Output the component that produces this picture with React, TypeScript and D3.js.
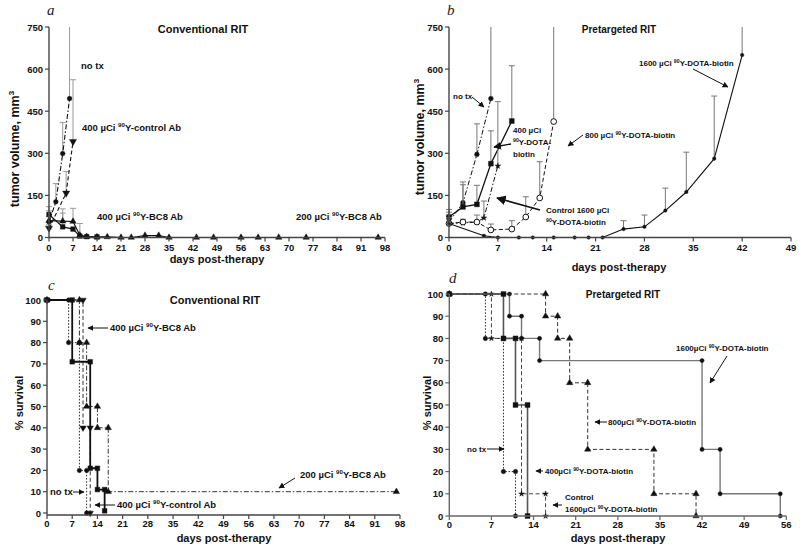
import React from 'react';
import * as d3 from 'd3';

const FONT = "'Liberation Sans', Arial, sans-serif";

// ---------- Panel a (conventional RIT, tumor volume) ----------
const aTicksX = [0, 7, 14, 21, 28, 35, 42, 49, 56, 63, 70, 77, 84, 91, 98];
const aTicksY = [0, 150, 300, 450, 600, 750];
const aNoTxDay = [0, 2, 4, 6];
const aNoTxVol = [55, 127, 299, 495];
const aNoTxUp = [75, 192, 410, 900];
const aCtrlDay = [0, 5, 7];
const aCtrlVol = [33, 158, 342];
const aCtrlUp = [45, 235, 562];
const aBc400Day = [0, 4, 7, 9, 11, 14];
const aBc400Vol = [82, 38, 30, 5, 3, 2];
const aBc400Up = [110, 87, null, null, null, null];
const aBc200Day = [0, 4, 7, 9, 11, 14, 17, 21, 24, 28, 32, 35, 43, 48, 56, 61, 67, 75, 96];
const aBc200Vol = [60, 58, 57, 8, 3, 2, 2, 0, 0, 7, 7, 0, 0, 0, 0, 0, 0, 0, 0];
const aBc200Up = [95, 102, 104, 50, null, null, null, null, null, null, null, null, null, null, null, null, null, null, null];

// ---------- Panel b (pretargeted RIT, tumor volume) ----------
const bTicksX = [0, 7, 14, 21, 28, 35, 42, 49];
const bTicksY = [0, 150, 300, 450, 600, 750];
const bNoTxDay = [0, 2, 4, 6];
const bNoTxVol = [55, 124, 296, 495];
const bNoTxUp = [75, 198, 405, 900];
const b400Day = [0, 2, 4, 6, 9];
const b400Vol = [73, 109, 118, 263, 415];
const b400Up = [100, 188, 186, 380, 612];
const bCtrlDay = [0, 2, 4, 5, 7];
const bCtrlVol = [50, 52, 55, 70, 255];
const bCtrlUp = [null, null, null, 130, 484];
const b800Day = [0, 2, 4, 6, 9, 11, 13, 15];
const b800Vol = [50, 55, 55, 27, 30, 73, 141, 413];
const b800Up = [70, 65, 80, 48, 60, 145, 270, 900];
const b1600Day = [0, 5, 7, 10, 12, 15, 18, 20, 22, 25, 28, 31, 34, 38, 42];
const b1600Vol = [50, 6, 0, 0, 0, 0, 0, 0, 0, 30, 38, 96, 162, 281, 650];
const b1600Up = [90, null, null, null, null, null, null, null, null, 60, 80, 176, 304, 504, 900];

// ---------- Panel c (conventional RIT, survival) ----------
const cTicksX = [0, 7, 14, 21, 28, 35, 42, 49, 56, 63, 70, 77, 84, 91, 98];
const cTicksY = [0, 10, 20, 30, 40, 50, 60, 70, 80, 90, 100];
const cNoTxT = [0, 6, 9, 11];
const cNoTxS = [100, 80, 20, 0];
const cBc400T = [0, 7, 12, 14, 16];
const cBc400S = [100, 71, 21, 11, 1];
const cCtrlT = [0, 10, 12];
const cCtrlS = [100, 40, 0];
const cBc200T = [0, 9, 11, 14, 17, 97];
const cBc200S = [100, 80, 50, 40, 10, 10];

// ---------- Panel d (pretargeted RIT, survival) ----------
const dTicksX = [0, 7, 14, 21, 28, 35, 42, 49, 56];
const dTicksY = [0, 10, 20, 30, 40, 50, 60, 70, 80, 90, 100];
const dNoTxT = [0, 6, 9, 11];
const dNoTxS = [100, 80, 20, 0];
const d400T = [0, 9, 11, 13];
const d400S = [100, 80, 50, 0];
const dCtrlT = [0, 7, 12, 16];
const dCtrlS = [100, 80, 10, 0];
const d800T = [0, 16, 18, 20, 23, 34, 41];
const d800S = [100, 90, 80, 60, 30, 10, 0];
const d1600T = [0, 10, 12, 15, 42, 45, 55];
const d1600S = [100, 90, 80, 70, 30, 10, 0];

type Sym = 'circle' | 'square' | 'triUp' | 'triDown' | 'star' | 'open';
type Scale = d3.ScaleLinear<number, number>;

function symPath(s: Sym, size: number): string {
  const t =
    s === 'square' ? d3.symbolSquare :
    s === 'triUp' || s === 'triDown' ? d3.symbolTriangle :
    s === 'star' ? d3.symbolStar : d3.symbolCircle;
  return d3.symbol().type(t).size(size)() as string;
}

function Mark({ x, y, s, size, color }: { x: number; y: number; s: Sym; size: number; color: string }) {
  const rot = s === 'triDown' ? 180 : 0;
  return (
    <path
      d={symPath(s, size)}
      transform={`translate(${x},${y}) rotate(${rot})`}
      fill={s === 'open' ? '#fff' : color}
      stroke={color}
      strokeWidth={s === 'open' ? 1 : 0.4}
    />
  );
}

function Growth(p: {
  x: Scale; y: Scale; days: number[]; vals: number[]; ups: (number | null)[];
  sym: Sym; size: number; dash?: string; color: string; err: string; width: number;
}) {
  const top = p.y.range()[1];
  const yMax = p.y.domain()[1];
  const line = d3.line<number>().x((_, i) => p.x(p.days[i])).y((d) => p.y(d));
  return (
    <g>
      {p.ups.map((u, i) =>
        u == null ? null : (
          <g key={i} stroke={p.err} strokeWidth={1}>
            <line x1={p.x(p.days[i])} x2={p.x(p.days[i])} y1={p.y(p.vals[i])} y2={Math.max(top, p.y(u))} />
            {u <= yMax && (
              <line x1={p.x(p.days[i]) - 3} x2={p.x(p.days[i]) + 3} y1={p.y(u)} y2={p.y(u)} />
            )}
          </g>
        )
      )}
      <path d={line(p.vals) || ''} fill="none" stroke={p.color} strokeWidth={p.width} strokeDasharray={p.dash} />
      {p.vals.map((v, i) => (
        <Mark key={i} x={p.x(p.days[i])} y={p.y(v)} s={p.sym} size={p.size} color={p.color} />
      ))}
    </g>
  );
}

function KM(p: {
  x: Scale; y: Scale; times: number[]; surv: number[]; sym: Sym; size: number;
  dash?: string; color: string; width: number; markColor?: string;
}) {
  const pts: [number, number][] = [[p.times[0], p.surv[0]]];
  for (let i = 1; i < p.times.length; i++) {
    pts.push([p.times[i], p.surv[i - 1]]);
    if (p.surv[i] !== p.surv[i - 1]) pts.push([p.times[i], p.surv[i]]);
  }
  const line = d3.line<[number, number]>().x((d) => p.x(d[0])).y((d) => p.y(d[1]));
  return (
    <g>
      <path d={line(pts) || ''} fill="none" stroke={p.color} strokeWidth={p.width} strokeDasharray={p.dash} />
      {pts.map((d, i) => (
        <Mark key={i} x={p.x(d[0])} y={p.y(d[1])} s={p.sym} size={p.size} color={p.markColor || '#111'} />
      ))}
    </g>
  );
}

function Axes(p: {
  x: Scale; y: Scale; xTicks: number[]; yTicks: number[]; xAxisY: number; color: string; off: number; fs: number;
}) {
  const x0 = p.x(p.xTicks[0]);
  const x1 = p.x(p.xTicks[p.xTicks.length - 1]);
  const yTop = p.y(p.yTicks[p.yTicks.length - 1]);
  return (
    <g fontFamily={FONT} fontWeight="bold" fontSize={p.fs} fill="#111">
      <line x1={x0} x2={x0} y1={p.xAxisY} y2={yTop} stroke={p.color} strokeWidth={1.4} />
      <line x1={x0} x2={x1} y1={p.xAxisY} y2={p.xAxisY} stroke={p.color} strokeWidth={1.4} />
      {p.yTicks.map((t) => (
        <g key={'y' + t}>
          <line x1={x0 - 4} x2={x0} y1={p.y(t)} y2={p.y(t)} stroke={p.color} strokeWidth={1.2} />
          <text x={x0 - 6} y={p.y(t)} textAnchor="end" dominantBaseline="central">{t}</text>
        </g>
      ))}
      {p.xTicks.map((t) => (
        <g key={'x' + t}>
          <line x1={p.x(t)} x2={p.x(t)} y1={p.xAxisY} y2={p.xAxisY + 4} stroke={p.color} strokeWidth={1.2} />
          <text x={p.x(t)} y={p.xAxisY + p.off} textAnchor="middle" dominantBaseline="central">{t}</text>
        </g>
      ))}
    </g>
  );
}

function Lbl({ x, y, parts, size, anchor, rotate, weight }: {
  x: number; y: number; parts: [string, string, string]; size: number;
  anchor?: string; rotate?: boolean; weight?: string;
}) {
  const sh = size * 0.42;
  return (
    <text
      x={rotate ? 0 : x}
      y={rotate ? 0 : y}
      transform={rotate ? `translate(${x},${y}) rotate(-90)` : undefined}
      fontFamily={FONT}
      fontWeight={weight || 'bold'}
      fontSize={size}
      textAnchor={anchor || 'start'}
      fill="#111"
    >
      <tspan>{parts[0]}</tspan>
      {parts[1] && <tspan dy={-sh} fontSize={size * 0.65}>{parts[1]}</tspan>}
      {parts[1] && <tspan dy={sh}>{parts[2]}</tspan>}
    </text>
  );
}

function Arrow({ x1, y1, x2, y2, w }: { x1: number; y1: number; x2: number; y2: number; w?: number }) {
  return <line x1={x1} y1={y1} x2={x2} y2={y2} stroke="#111" strokeWidth={w || 1} markerEnd="url(#arr)" />;
}

function Letter({ x, y, t }: { x: number; y: number; t: string }) {
  return (
    <text x={x} y={y} fontFamily="'Liberation Serif', 'Times New Roman', serif" fontStyle="italic" fontSize={15} fill="#222">
      {t}
    </text>
  );
}

export default function App() {
  const xa = d3.scaleLinear().domain([0, 98]).range([49, 385]);
  const ya = d3.scaleLinear().domain([0, 750]).range([237.5, 27]);
  const xb = d3.scaleLinear().domain([0, 49]).range([449, 791]);
  const yb = d3.scaleLinear().domain([0, 750]).range([237.5, 27]);
  const xc = d3.scaleLinear().domain([0, 98]).range([47, 400]);
  const yc = d3.scaleLinear().domain([0, 100]).range([513, 300]);
  const xd = d3.scaleLinear().domain([0, 56]).range([449.3, 786.3]);
  const yd = d3.scaleLinear().domain([0, 100]).range([516, 294]);

  const K = '#111';
  const dashDot = '5,2,1.5,2';
  const dashed = '4,2.5';
  const dotted = '1.6,1.6';

  return (
    <svg width={800} height={549} style={{ position: 'absolute', left: 0, top: 0 }}>
      <defs>
        <marker id="arr" viewBox="0 0 10 10" refX="9" refY="5" markerWidth="6" markerHeight="6" orient="auto">
          <path d="M0,0L10,5L0,10z" fill="#111" />
        </marker>
      </defs>
      <rect width={800} height={549} fill="#fff" />

      {/* ===== Panel a ===== */}
      <Letter x={47} y={15} t="a" />
      <text x={203} y={33} textAnchor="middle" fontFamily={FONT} fontWeight="bold" fontSize={11} fill="#111">Conventional RIT</text>
      <Growth x={xa} y={ya} days={aNoTxDay} vals={aNoTxVol} ups={aNoTxUp} sym="circle" size={18} dash={dashDot} color={K} err="#999" width={1.1} />
      <Growth x={xa} y={ya} days={aCtrlDay} vals={aCtrlVol} ups={aCtrlUp} sym="triDown" size={22} dash={dashed} color={K} err="#999" width={1.1} />
      <Growth x={xa} y={ya} days={aBc400Day} vals={aBc400Vol} ups={aBc400Up} sym="square" size={22} color={K} err="#999" width={1.2} />
      <Growth x={xa} y={ya} days={aBc200Day} vals={aBc200Vol} ups={aBc200Up} sym="triUp" size={18} color={K} err="#999" width={1.2} />
      <Axes x={xa} y={ya} xTicks={aTicksX} yTicks={aTicksY} xAxisY={ya(0)} color="#444" off={9.5} fs={9.5} />
      <Lbl x={81} y={69} parts={['no tx', '', '']} size={9.5} />
      <Lbl x={82} y={131} parts={['400 µCi ', '90', 'Y-control Ab']} size={9.5} />
      <Lbl x={97} y={220} parts={['400 µCi ', '90', 'Y-BC8 Ab']} size={9.5} />
      <Lbl x={296} y={220} parts={['200 µCi ', '90', 'Y-BC8 Ab']} size={9.5} />
      <Lbl x={217} y={263} parts={['days post-therapy', '', '']} size={11} anchor="middle" />
      <Lbl x={19} y={149} parts={['tumor volume, mm', '3', '']} size={12.5} anchor="middle" rotate />

      {/* ===== Panel b ===== */}
      <Letter x={447} y={15} t="b" />
      <text x={619} y={33} textAnchor="middle" fontFamily={FONT} fontWeight="bold" fontSize={10} fill="#111">Pretargeted RIT</text>
      <Growth x={xb} y={yb} days={bNoTxDay} vals={bNoTxVol} ups={bNoTxUp} sym="circle" size={18} dash={dashDot} color={K} err="#777" width={1} />
      <Growth x={xb} y={yb} days={b400Day} vals={b400Vol} ups={b400Up} sym="square" size={24} color={K} err="#777" width={1.3} />
      <Growth x={xb} y={yb} days={bCtrlDay} vals={bCtrlVol} ups={bCtrlUp} sym="star" size={11} dash={dashDot} color={K} err="#777" width={1} />
      <Growth x={xb} y={yb} days={b800Day} vals={b800Vol} ups={b800Up} sym="open" size={26} dash={dashed} color={K} err="#777" width={1} />
      <Growth x={xb} y={yb} days={b1600Day} vals={b1600Vol} ups={b1600Up} sym="circle" size={10} color={K} err="#777" width={1.1} />
      <Axes x={xb} y={yb} xTicks={bTicksX} yTicks={bTicksY} xAxisY={yb(0)} color="#444" off={9.5} fs={9.5} />
      <Lbl x={453} y={99} parts={['no tx', '', '']} size={8} />
      <Arrow x1={472} y1={97} x2={484} y2={107} />
      <Lbl x={513} y={133} parts={['400 µCi', '', '']} size={8} />
      <Lbl x={513} y={145} parts={['', '90', 'Y-DOTA-']} size={8} />
      <Lbl x={513} y={157} parts={['biotin', '', '']} size={8} />
      <Arrow x1={511} y1={144} x2={494} y2={147} w={1.3} />
      <Lbl x={585} y={138} parts={['800 µCi ', '90', 'Y-DOTA-biotin']} size={8} />
      <Arrow x1={583} y1={135} x2={568} y2={146} />
      <Lbl x={546} y={213} parts={['Control 1600 µCi', '', '']} size={8} />
      <Lbl x={546} y={225} parts={['', '90', 'Y-DOTA-biotin']} size={8} />
      <Arrow x1={540} y1={210} x2={497} y2={198} w={1.6} />
      <Lbl x={639} y={66} parts={['1600 µCi ', '90', 'Y-DOTA-biotin']} size={8} />
      <Arrow x1={693} y1={69} x2={728} y2={87} />
      <Lbl x={619} y={271} parts={['days post-therapy', '', '']} size={11} anchor="middle" />
      <Lbl x={424} y={137} parts={['tumor volume, mm', '3', '']} size={12.5} anchor="middle" rotate />

      {/* ===== Panel c ===== */}
      <Letter x={48} y={290} t="c" />
      <text x={215} y={304} textAnchor="middle" fontFamily={FONT} fontWeight="bold" fontSize={11} fill="#111">Conventional RIT</text>
      <KM x={xc} y={yc} times={cBc200T} surv={cBc200S} sym="triUp" size={18} dash={dashDot} color="#333" width={1} />
      <KM x={xc} y={yc} times={cNoTxT} surv={cNoTxS} sym="circle" size={16} dash={dotted} color="#333" width={1} />
      <KM x={xc} y={yc} times={cCtrlT} surv={cCtrlS} sym="triDown" size={18} dash={dashed} color="#333" width={1} />
      <KM x={xc} y={yc} times={cBc400T} surv={cBc400S} sym="square" size={22} color="#111" width={1.8} />
      <Axes x={xc} y={yc} xTicks={cTicksX} yTicks={cTicksY} xAxisY={515} color="#444" off={8.5} fs={9.5} />
      <Lbl x={110} y={331} parts={['400 µCi ', '90', 'Y-BC8 Ab']} size={9.5} />
      <Arrow x1={108} y1={328} x2={88} y2={328} />
      <Lbl x={50} y={495} parts={['no tx', '', '']} size={9.5} />
      <Arrow x1={73} y1={492} x2={84} y2={492} />
      <Lbl x={117} y={508} parts={['400 µCi ', '90', 'Y-control Ab']} size={9.5} />
      <Arrow x1={115} y1={505} x2={95} y2={505} />
      <Lbl x={300} y={478} parts={['200 µCi ', '90', 'Y-BC8 Ab']} size={9.5} />
      <Arrow x1={295} y1={478} x2={279} y2={488} />
      <Lbl x={224} y={542} parts={['days post-therapy', '', '']} size={11} anchor="middle" />
      <Lbl x={23} y={403} parts={['% survival', '', '']} size={11} anchor="middle" rotate />

      {/* ===== Panel d ===== */}
      <Letter x={449} y={283} t="d" />
      <text x={623} y={298} textAnchor="middle" fontFamily={FONT} fontWeight="bold" fontSize={10} fill="#111">Pretargeted RIT</text>
      <KM x={xd} y={yd} times={d1600T} surv={d1600S} sym="circle" size={14} color="#777" width={1.4} />
      <KM x={xd} y={yd} times={d800T} surv={d800S} sym="triUp" size={18} dash={dashed} color="#333" width={1} />
      <KM x={xd} y={yd} times={dCtrlT} surv={dCtrlS} sym="star" size={10} dash={dashed} color="#444" width={1} />
      <KM x={xd} y={yd} times={dNoTxT} surv={dNoTxS} sym="circle" size={16} dash={dotted} color="#333" width={1} />
      <KM x={xd} y={yd} times={d400T} surv={d400S} sym="square" size={24} color="#555" width={1.6} />
      <Axes x={xd} y={yd} xTicks={dTicksX} yTicks={dTicksY} xAxisY={yd(0)} color="#666" off={8} fs={9.5} />
      <Lbl x={676} y={351} parts={['1600µCi ', '90', 'Y-DOTA-biotin']} size={8} />
      <Arrow x1={727} y1={356} x2={710} y2={383} />
      <Lbl x={608} y={425} parts={['800µCi ', '90', 'Y-DOTA-biotin']} size={8} />
      <Arrow x1={607} y1={422} x2={595} y2={422} />
      <Lbl x={467} y={452} parts={['no tx', '', '']} size={8} />
      <Arrow x1={487} y1={449} x2={504} y2={449} />
      <Lbl x={545} y={474} parts={['400µCi ', '90', 'Y-DOTA-biotin']} size={8} />
      <Arrow x1={543} y1={471} x2={536} y2={471} />
      <Lbl x={565} y={500} parts={['Control', '', '']} size={8} />
      <Lbl x={565} y={512} parts={['1600µCi ', '90', 'Y-DOTA-biotin']} size={8} />
      <Arrow x1={562} y1={505} x2={553} y2={505} />
      <Lbl x={618} y={542} parts={['days post-therapy', '', '']} size={11} anchor="middle" />
      <Lbl x={431} y={403} parts={['% survival', '', '']} size={11} anchor="middle" rotate />
    </svg>
  );
}
